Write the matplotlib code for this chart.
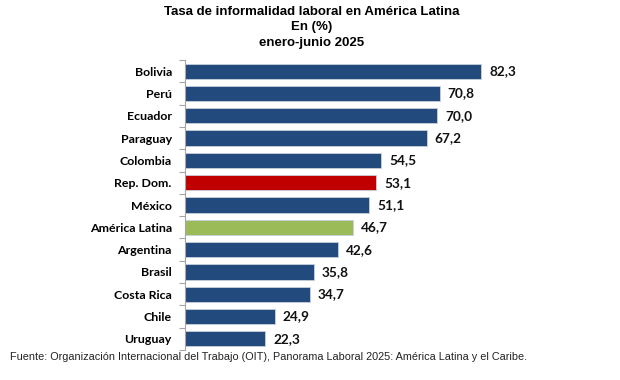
import numpy as np
import matplotlib.pyplot as plt

paises = ['Bolivia', 'Perú', 'Ecuador', 'Paraguay', 'Colombia', 'Rep. Dom.', 'México',
          'América Latina', 'Argentina', 'Brasil', 'Costa Rica', 'Chile', 'Uruguay']
tasas = [82.3, 70.8, 70.0, 67.2, 54.5, 53.1, 51.1, 46.7, 42.6, 35.8, 34.7, 24.9, 22.3]
colores = ['#234A7C'] * len(paises)
colores[paises.index('Rep. Dom.')] = '#C00000'
colores[paises.index('América Latina')] = '#9BBB59'

fig = plt.figure(figsize=(6.2, 3.8), dpi=100)
ax = fig.add_axes([185/620, 30/380, 360/620, 290/380])

y = np.arange(len(paises))
ax.barh(y, tasas, height=0.68, color=colores, edgecolor='#C8D0DC', linewidth=0.6)
ax.set_ylim(len(paises) - 0.5, -0.5)
ax.set_xlim(0, 100)

for yi, v in zip(y, tasas):
    ax.text(v + 2.2, yi, ('%.1f' % v).replace('.', ','), va='center', ha='left',
            fontsize=9.8, fontweight='bold', family='Lato', color='#111111')

ax.set_yticks(y)
ax.set_yticklabels(paises, fontsize=8.9, fontweight='bold', family='Lato')
ax.tick_params(axis='y', which='major', length=0, pad=9.5)
ax.set_yticks(np.arange(-0.5, len(paises)), minor=True)
ax.tick_params(axis='y', which='minor', length=4, color='#A6A6A6', width=0.8)
ax.set_xticks([])
for s in ['top', 'right', 'bottom']:
    ax.spines[s].set_visible(False)
ax.spines['left'].set_color('#A6A6A6')
ax.spines['left'].set_linewidth(0.8)

fig.text(0.503, 0.985, 'Tasa de informalidad laboral en América Latina\nEn (%)\nenero-junio 2025',
         ha='center', va='top', fontsize=9.5, fontweight='bold', family='Liberation Sans',
         linespacing=1.42)
fig.text(10/620, 1 - 357/380, 'Fuente: Organización Internacional del Trabajo (OIT), Panorama Laboral 2025: América Latina y el Caribe.',
         ha='left', va='center', fontsize=7.8, family='Liberation Sans', color='#222222')

fig.savefig('out.png', dpi=100)
